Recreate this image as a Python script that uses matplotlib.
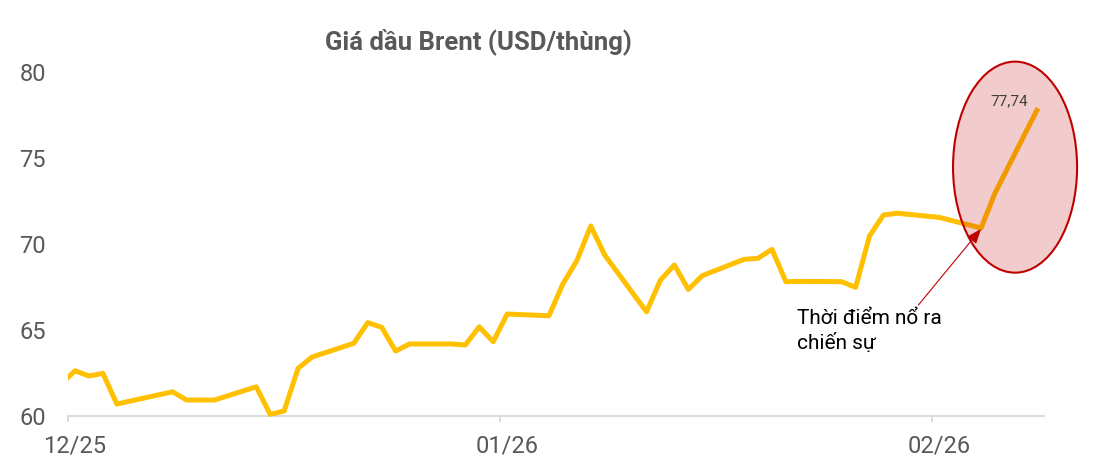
import matplotlib.pyplot as plt
from matplotlib.patches import Ellipse, Rectangle

plt.rcParams['font.family'] = ['Roboto', 'DejaVu Sans']

# days counted from 30/11/2025
days = [0, 1, 2, 3, 4, 8, 9, 11, 14, 15, 16, 17, 18, 21, 22, 23, 24, 25, 28,
        29, 30, 31, 32, 35, 36, 37, 38, 39, 42, 43, 44, 45, 46, 49, 50, 51,
        52, 53, 56, 57, 58, 59, 60, 63, 66, 67, 70]
brent = [61.85, 62.60, 62.30, 62.45, 60.67, 61.38, 60.90, 60.90, 61.67, 60.07,
         60.26, 62.74, 63.40, 64.20, 65.40, 65.13, 63.75, 64.16, 64.16, 64.10,
         65.16, 64.29, 65.90, 65.80, 67.65, 69.00, 71.02, 69.33, 66.03, 67.88,
         68.75, 67.33, 68.13, 69.08, 69.14, 69.66, 67.78, 67.80, 67.78, 67.45,
         70.44, 71.66, 71.76, 71.52, 70.90, 72.93, 77.74]

month_ticks = [0.5, 31.5, 62.5]
month_labels = ['12/25', '01/26', '02/26']
y_ticks = [60, 65, 70, 75, 80]

title = 'Giá dầu Brent (USD/thùng)'
note = 'Thời điểm nổ ra\nchiến sự'
gray = '#595959'

fig = plt.figure(figsize=(11.03, 4.62), dpi=100)
ax = fig.add_axes([0.0617, 0.1006, 0.8846, 0.7446])

line, = ax.plot(days, brent, color='#FFC000', lw=3.6, solid_joinstyle='round',
                zorder=3)
# clip only left/right so the low points are not cut
line.set_clip_path(Rectangle((0, -0.1), 1, 1.3, transform=ax.transAxes))

ax.set_xlim(0.5, 70.5)
ax.set_ylim(60, 80)

for s in ['top', 'right', 'left']:
    ax.spines[s].set_visible(False)
ax.spines['bottom'].set_color('#D9D9D9')
ax.spines['bottom'].set_linewidth(1.3)

ax.set_yticks(y_ticks)
ax.tick_params(axis='y', length=0, pad=16, labelsize=17, labelcolor=gray)

ax.set_xticks(month_ticks)
ax.set_xticklabels([])
ax.set_xticks([t + 0.5 for t in month_ticks], minor=True)
ax.set_xticklabels(month_labels, minor=True)
ax.tick_params(axis='x', which='major', length=4, width=1.3, color='#D9D9D9')
ax.tick_params(axis='x', which='minor', length=0, pad=14, labelsize=17,
               labelcolor=gray)

fig.text(0.4335, 0.91, title, ha='center', va='center', fontsize=18.5,
         fontweight='bold', color=gray)

# highlight of the last days
ell = Ellipse((68.44, 74.44), 8.9, 12.27, facecolor=(0.75, 0, 0, 0.2),
              edgecolor='#C00000', lw=1.5, zorder=4, clip_on=False)
ax.add_patch(ell)

ax.text(68.03, 78.24, '77,74', ha='center', va='center', fontsize=11,
        color='#404040', zorder=5)

ax.annotate('', xy=(66, 70.85), xytext=(61.5, 66.42),
            arrowprops=dict(arrowstyle='-|>,head_length=0.9,head_width=0.35',
                            color='#C00000', lw=0.8, shrinkA=0, shrinkB=0),
            zorder=5)
ax.text(52.8, 66.2, note, ha='left', va='top', fontsize=15, color='black',
        linespacing=1.35, zorder=5)

fig.savefig('out.png', dpi=100)
